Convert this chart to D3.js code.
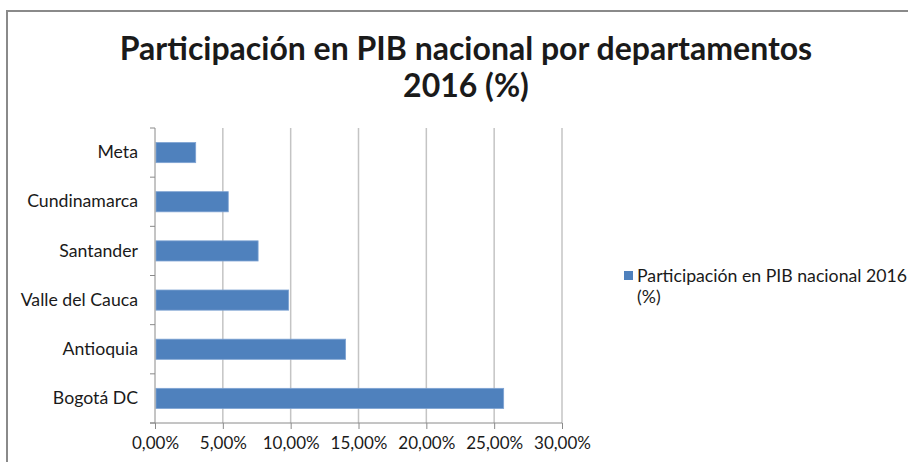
<!DOCTYPE html>
<html>
<head>
<meta charset="utf-8">
<script src="https://cdn.jsdelivr.net/npm/d3@7"></script>
<style>
  body { margin: 0; background: #fff; }
  svg { display: block; }
  text { font-family: Lato, "Open Sans", sans-serif; fill: #1a1a1a; }
</style>
</head>
<body>
<div id="mainDiv"></div>
<script>
// chart data
var departamentos = [ 'Meta', 'Cundinamarca', 'Santander ', 'Valle del Cauca', 'Antioquia', 'Bogotá DC' ];
var participacion = [ 3.0, 5.4, 7.6, 9.85, 14.05, 25.7 ];
var xTicks = [ 0, 5, 10, 15, 20, 25, 30 ];
var titleLines = [ 'Participación en PIB nacional por departamentos', '2016 (%)' ];
var legendLines = [ 'Participación en PIB nacional 2016', '(%)' ];

var _width = 908, _height = 462,
    _left = 155, _right = 562, _top = 128, _bottom = 423,
    _blue = '#4f81bd';

var svg = d3.select( '#mainDiv' )
    .append( 'svg' )
    .attr( 'width', _width )
    .attr( 'height', _height );

// outer chart frame (runs off right and bottom edge)
svg.append( 'path' )
    .attr( 'd', 'M7,' + ( _height + 5 ) + 'V11H' + ( _width + 5 ) )
    .attr( 'fill', 'none' )
    .attr( 'stroke', '#8a8a8a' )
    .attr( 'stroke-width', 2 );

// title
svg.append( 'text' )
    .attr( 'text-anchor', 'middle' )
    .attr( 'font-weight', 'bold' )
    .attr( 'font-size', 32 )
    .selectAll( 'tspan' )
    .data( titleLines )
    .join( 'tspan' )
    .attr( 'x', 466 )
    .attr( 'y', function ( d, i ) { return 60 + i * 37; } )
    .text( function ( d ) { return d; } );

var x = d3.scaleLinear()
    .domain( [ 0, 30 ] )
    .range( [ _left, _right ] );

var y = d3.scaleBand()
    .domain( departamentos )
    .range( [ _top, _bottom ] )
    .paddingInner( 0.59 )
    .paddingOuter( 0.295 );

// vertical gridlines
svg.append( 'g' )
    .selectAll( 'line' )
    .data( xTicks.slice( 1 ) )
    .join( 'line' )
    .attr( 'x1', function ( d ) { return x( d ); } )
    .attr( 'x2', function ( d ) { return x( d ); } )
    .attr( 'y1', _top )
    .attr( 'y2', _bottom )
    .attr( 'stroke', '#c4c4c4' )
    .attr( 'stroke-width', 1.5 );

// bars
svg.append( 'g' )
    .selectAll( 'rect' )
    .data( participacion )
    .join( 'rect' )
    .attr( 'x', x( 0 ) + 1 )
    .attr( 'y', function ( d, i ) { return y( departamentos[ i ] ); } )
    .attr( 'width', function ( d ) { return x( d ) - x( 0 ) - 1; } )
    .attr( 'height', y.bandwidth() )
    .attr( 'fill', _blue )
    .attr( 'stroke', '#7ea3d3' )
    .attr( 'stroke-width', 0.8 );

// bottom axis
var xAxis = svg.append( 'g' )
    .attr( 'transform', 'translate(0,' + _bottom + ')' )
    .call( d3.axisBottom( x )
        .tickValues( xTicks )
        .tickSize( 6 )
        .tickPadding( 8 )
        .tickFormat( function ( d ) { return d3.format( '.2f' )( d ).replace( '.', ',' ) + '%'; } ) );
xAxis.select( '.domain' ).attr( 'd', 'M' + ( _left - 5 ) + ',0H' + _right ).attr( 'stroke', '#8a8a8a' );
xAxis.selectAll( '.tick line' ).attr( 'stroke', '#8a8a8a' );
xAxis.selectAll( 'text' )
    .attr( 'font-family', 'Lato, sans-serif' )
    .attr( 'font-size', 17 )
    .attr( 'fill', '#1a1a1a' );

// left axis
var yAxis = svg.append( 'g' )
    .attr( 'transform', 'translate(' + _left + ',0)' )
    .call( d3.axisLeft( y ).tickSize( 0 ).tickPadding( 17 ) );
yAxis.select( '.domain' ).attr( 'd', 'M0,' + _top + 'V' + _bottom ).attr( 'stroke', '#8a8a8a' );
yAxis.selectAll( 'text' )
    .attr( 'font-family', 'Lato, sans-serif' )
    .attr( 'font-size', 17.7 )
    .attr( 'fill', '#1a1a1a' );

// small ticks between categories
var bounds = d3.range( departamentos.length + 1 ).map( function ( i ) { return _top + i * ( _bottom - _top ) / departamentos.length; } );
yAxis.append( 'g' )
    .selectAll( 'line' )
    .data( bounds )
    .join( 'line' )
    .attr( 'x1', -5 )
    .attr( 'x2', 0 )
    .attr( 'y1', function ( d ) { return d; } )
    .attr( 'y2', function ( d ) { return d; } )
    .attr( 'stroke', '#8a8a8a' );

// legend
var legend = svg.append( 'g' ).attr( 'transform', 'translate(624,271)' );
legend.append( 'rect' )
    .attr( 'width', 9 )
    .attr( 'height', 9 )
    .attr( 'fill', _blue );
legend.append( 'text' )
    .attr( 'font-size', 17.7 )
    .selectAll( 'tspan' )
    .data( legendLines )
    .join( 'tspan' )
    .attr( 'x', 13 )
    .attr( 'y', function ( d, i ) { return 11 + i * 21; } )
    .text( function ( d ) { return d; } );
</script>
</body>
</html>
